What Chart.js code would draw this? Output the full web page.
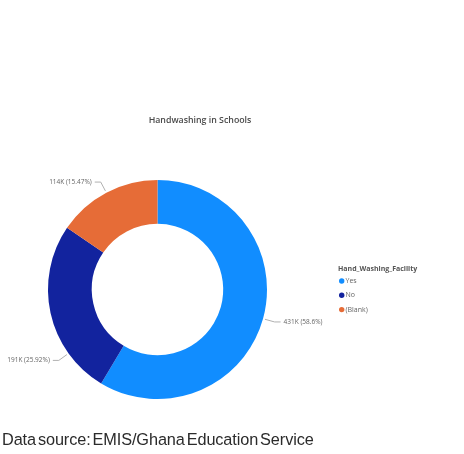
<!DOCTYPE html>
<html>
<head>
<meta charset="utf-8">
<script src="https://cdn.jsdelivr.net/npm/chart.js@4"></script>
<style>
  body { margin: 0; background: #fff; }
  #wrap { position: relative; width: 464px; height: 454px; }
  #source {
    position: absolute; left: 2px; top: 430px;
    font-family: "Liberation Sans", Arial, sans-serif;
    font-size: 16.3px; color: #2b2b2b; letter-spacing: -0.1px; word-spacing: -2.5px;
    white-space: nowrap;
  }
</style>
</head>
<body>
<div id="wrap">
  <canvas id="chart" width="464" height="454"></canvas>
  <div id="source">Data source: EMIS/Ghana Education Service</div>
</div>
<script>
const categories = ['Yes', 'No', '(Blank)'];
const schools = [431250, 190760, 113860];
const sliceColors = ['#118DFF', '#12239E', '#E66C37'];
const chartTitle = 'Handwashing in Schools';
const legendTitle = 'Hand_Washing_Facility';

const total = schools.reduce((a, b) => a + b, 0);
function fmtLabel(v) {
    let pct = (v / total * 100).toFixed(2).replace(/0+$/, '').replace(/\.$/, '');
    return Math.round(v / 1000) + 'K (' + pct + '%)';
}

// where along each slice the leader line leaves the ring
const anchorAt = [0.5, 0.25, 0.5];

const pbiText = {
    id: 'pbiText',
    afterDraw(chart) {
        const ctx = chart.ctx;
        ctx.save();

        // title
        ctx.font = '600 8.8px "Open Sans", sans-serif';
        ctx.fillStyle = '#4a4a4a';
        ctx.textAlign = 'center';
        ctx.textBaseline = 'middle';
        ctx.fillText(chartTitle, 200, 120);

        // detail labels with leader lines
        const meta = chart.getDatasetMeta(0);
        ctx.font = '6.5px "Open Sans", sans-serif';
        meta.data.forEach((arc, i) => {
            const p = arc.getProps(['x', 'y', 'startAngle', 'endAngle', 'outerRadius'], true);
            const a = p.startAngle + (p.endAngle - p.startAngle) * anchorAt[i];
            const c = Math.cos(a), s = Math.sin(a);
            const x0 = p.x + c * (p.outerRadius + 2), y0 = p.y + s * (p.outerRadius + 2);
            const x1 = p.x + c * (p.outerRadius + 12), y1 = p.y + s * (p.outerRadius + 12);
            const dir = c >= 0 ? 1 : -1;
            const x2 = x1 + dir * 6;
            ctx.strokeStyle = '#b0b0b0';
            ctx.lineWidth = 1;
            ctx.beginPath();
            ctx.moveTo(x0, y0);
            ctx.lineTo(x1, y1);
            ctx.lineTo(x2, y1);
            ctx.stroke();
            ctx.fillStyle = '#666';
            ctx.textAlign = dir > 0 ? 'left' : 'right';
            ctx.fillText(fmtLabel(schools[i]), x2 + dir * 3, y1);
        });

        // legend
        ctx.textAlign = 'left';
        ctx.font = 'bold 7px "Open Sans", sans-serif';
        ctx.fillStyle = '#555';
        ctx.fillText(legendTitle, 338, 269);
        ctx.font = '7px "Open Sans", sans-serif';
        categories.forEach((name, i) => {
            const y = 281 + i * 14.3;
            ctx.fillStyle = sliceColors[i];
            ctx.beginPath();
            ctx.arc(341.7, y, 2.7, 0, Math.PI * 2);
            ctx.fill();
            ctx.fillStyle = '#666';
            ctx.fillText(name, 345.5, y);
        });
        ctx.restore();
    }
};

new Chart(document.getElementById('chart'), {
    type: 'doughnut',
    data: {
        labels: categories,
        datasets: [{
            data: schools,
            backgroundColor: sliceColors,
            borderWidth: 0
        }]
    },
    options: {
        responsive: false,
        animation: false,
        cutout: '60%',
        layout: { padding: { left: 48, top: 180, right: 197, bottom: 55 } },
        plugins: {
            legend: { display: false },
            tooltip: { enabled: false }
        }
    },
    plugins: [pbiText]
});
</script>
</body>
</html>
